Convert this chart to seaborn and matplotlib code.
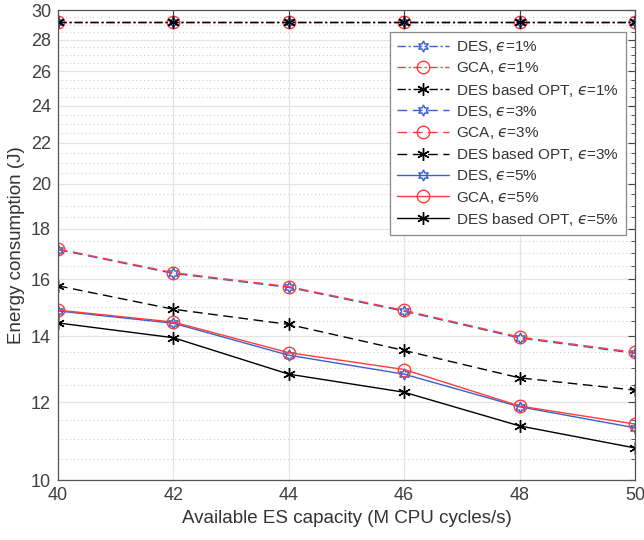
import numpy as np
import pandas as pd
import matplotlib
matplotlib.use('Agg')
import matplotlib.pyplot as plt
import matplotlib.ticker as mticker
import seaborn as sns

# x: available ES capacity (M CPU cycles/s)
capacity = [40, 42, 44, 46, 48, 50]

# energy consumption (J)
des_1 = [29.2, 29.2, 29.2, 29.2, 29.2, 29.2]
gca_1 = [29.2, 29.2, 29.2, 29.2, 29.2, 29.2]
opt_1 = [29.2, 29.2, 29.2, 29.2, 29.2, 29.2]
des_3 = [17.14, 16.21, 15.69, 14.84, 13.94, 13.45]
gca_3 = [17.17, 16.24, 15.72, 14.87, 13.97, 13.48]
opt_3 = [15.75, 14.91, 14.39, 13.54, 12.70, 12.34]
des_5 = [14.85, 14.43, 13.39, 12.81, 11.87, 11.30]
gca_5 = [14.88, 14.47, 13.47, 12.95, 11.89, 11.40]
opt_5 = [14.44, 13.95, 12.81, 12.28, 11.35, 10.78]

eps = '$\u03f5$'
series = [
    (f'DES, {eps}=1%', des_1), (f'GCA, {eps}=1%', gca_1), (f'DES based OPT, {eps}=1%', opt_1),
    (f'DES, {eps}=3%', des_3), (f'GCA, {eps}=3%', gca_3), (f'DES based OPT, {eps}=3%', opt_3),
    (f'DES, {eps}=5%', des_5), (f'GCA, {eps}=5%', gca_5), (f'DES based OPT, {eps}=5%', opt_5),
]

df = pd.concat([pd.DataFrame({'capacity': capacity, 'energy': vals, 'series': name})
                for name, vals in series], ignore_index=True)

sns.set_theme(style="white")
plt.rcParams['font.family'] = ['Liberation Sans', 'DejaVu Sans']
plt.rcParams['text.color'] = '#333333'
plt.rcParams['axes.labelcolor'] = '#333333'
plt.rcParams['xtick.color'] = '#404040'
plt.rcParams['ytick.color'] = '#404040'

blue = '#3a5fcd'
red = '#ff3b3b'
algo_style = {
    'DES': dict(color=blue, marker=(6, 1, 0), markersize=8),
    'GCA': dict(color=red, marker='o', markersize=9),
    'OPT': dict(color='black', marker=(6, 2, 0), markersize=9),
}
eps_ls = {'1%': (0, (6, 2, 1.5, 2)), '3%': (0, (7, 4)), '5%': '-'}

fig = plt.figure(figsize=(6.44, 5.4), dpi=100)
ax = fig.add_axes([0.090, 0.111, 0.896, 0.870])

for name, _ in series:
    algo = 'OPT' if 'OPT' in name else name.split(',')[0]
    level = name.split('=')[-1]
    st = algo_style[algo]
    sns.lineplot(data=df[df['series'] == name], x='capacity', y='energy', ax=ax,
                 color=st['color'], marker=st['marker'], markersize=st['markersize'],
                 markerfacecolor='none', markeredgecolor=st['color'], markeredgewidth=1.0,
                 linestyle=eps_ls[level], linewidth=1.0, label=name, errorbar=None)

ax.set_yscale('log')
ax.set_xlim(40, 50)
ax.set_ylim(10, 30)
ax.yaxis.set_major_locator(mticker.FixedLocator(np.arange(10, 31, 2)))
ax.yaxis.set_major_formatter(mticker.FormatStrFormatter('%d'))
ax.yaxis.set_minor_locator(mticker.FixedLocator([v for v in np.arange(10, 30.01, 0.5) if v % 2 != 0]))
ax.yaxis.set_minor_formatter(mticker.NullFormatter())
ax.xaxis.set_major_locator(mticker.FixedLocator(capacity))

ax.grid(which='major', color='#e4e4e4', linewidth=0.9, linestyle='-')
ax.grid(which='minor', axis='y', color='#c8c8c8', linewidth=0.7, linestyle=(0, (1, 3)))
ax.set_axisbelow(True)

ax.tick_params(which='both', direction='in', top=True, right=True, labelsize=13, pad=5)
ax.tick_params(which='major', length=5, width=0.8)
ax.tick_params(which='minor', length=3, width=0.6)
for sp in ax.spines.values():
    sp.set_color('#555555')
    sp.set_linewidth(0.9)

ax.set_xlabel('Available ES capacity (M CPU cycles/s)', fontsize=13.5)
ax.set_ylabel('Energy consumption (J)', fontsize=13.5, labelpad=4)

leg = ax.legend(loc='upper right', bbox_to_anchor=(0.984, 0.953), borderaxespad=0, fontsize=11,
                frameon=True, fancybox=False, framealpha=1, edgecolor='#888888',
                handlelength=3.4, labelspacing=0.34, borderpad=0.45, handletextpad=0.45)
leg.get_frame().set_linewidth(0.9)

fig.savefig('out.png', dpi=100)
